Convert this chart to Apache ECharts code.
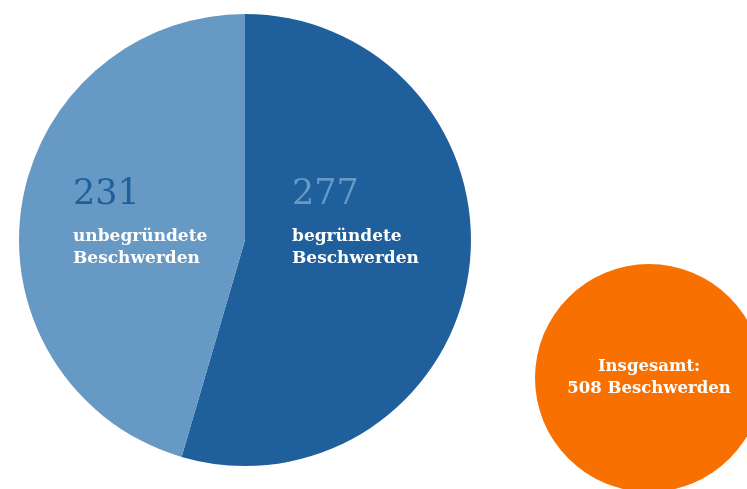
<!DOCTYPE html>
<html>
<head>
<meta charset="utf-8">
<script src="https://cdn.jsdelivr.net/npm/echarts@6/dist/echarts.min.js"></script>
<style>
  html, body { margin: 0; padding: 0; background: #fff; }
  #main { width: 747px; height: 489px; }
</style>
</head>
<body>
<div id="main"></div>
<script>
// Beschwerden
const categories = ['begründete Beschwerden', 'unbegründete Beschwerden']
const values = [277, 231]
const total = 508
const totalLabel = ['Insgesamt:', '508 Beschwerden']

const colors = ['#1f5f9c', '#6699c3']
const serif = '"DejaVu Serif", "Liberation Serif", serif'

const chart = echarts.init(document.getElementById('main'))

// Beschriftungen im Kreis
const labelPos = [[292, 193], [73, 193]]
const numColors = ['#6699c3', '#1f5f9c']
const graphics = []
values.forEach((v, i) => {
  graphics.push({
    type: 'text', left: labelPos[i][0], top: labelPos[i][1] - 16, z: 100,
    style: { text: String(v), font: 'normal 35px ' + serif, fill: numColors[i] }
  })
  graphics.push({
    type: 'text', left: labelPos[i][0], top: labelPos[i][1] + 33, z: 100,
    style: { text: categories[i].replace(' ', '\n'), font: 'bold 17px ' + serif, fill: '#fff', lineHeight: 22 }
  })
})

const option = {
  animation: false,
  graphic: { elements: graphics },
  series: [
    {
      type: 'pie',
      z: 1,
      center: [245, 240],
      radius: [0, 226],
      startAngle: 90,
      clockwise: true,
      label: { show: false },
      labelLine: { show: false },
      silent: true,
      data: values.map((v, i) => ({ name: categories[i], value: v, itemStyle: { color: colors[i] } }))
    },
    {
      type: 'pie',
      z: 1,
      center: [649, 378],
      radius: [0, 114],
      silent: true,
      label: {
        show: true,
        position: 'center',
        formatter: totalLabel.join('\n'),
        color: '#fff',
        fontFamily: serif,
        fontWeight: 'bold',
        fontSize: 16.5,
        lineHeight: 22
      },
      labelLine: { show: false },
      data: [{ name: 'Insgesamt', value: total, itemStyle: { color: '#f87000' } }]
    }
  ]
}

chart.setOption(option)
</script>
</body>
</html>
